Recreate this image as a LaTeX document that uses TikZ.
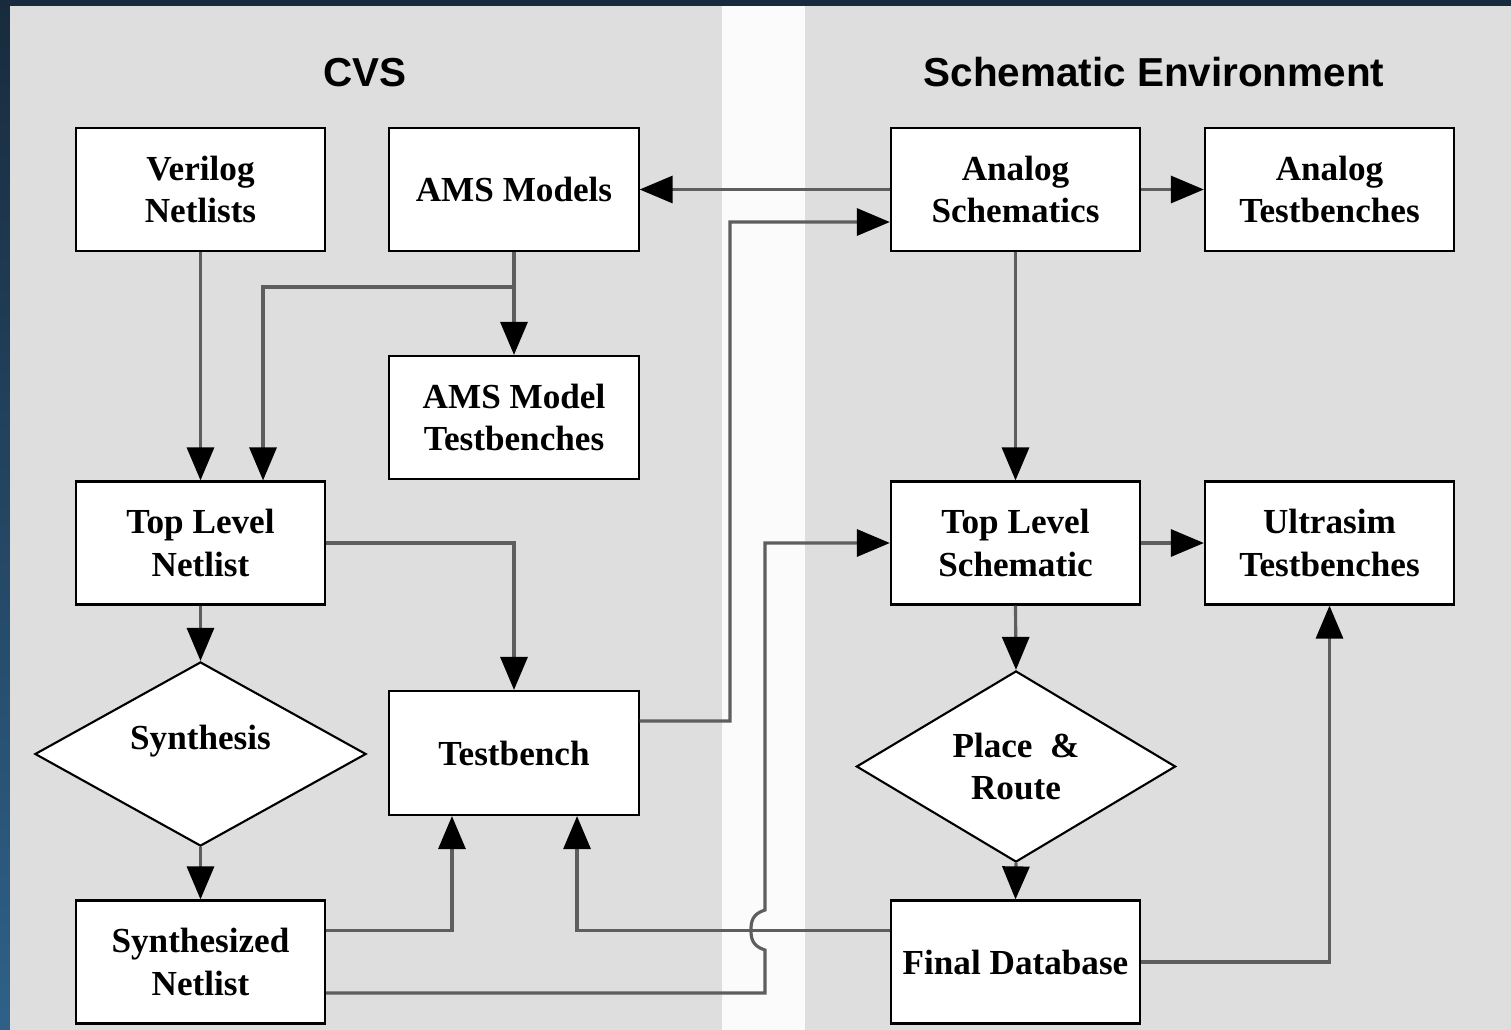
\documentclass[tikz,border=0pt]{standalone}
\usepackage{fontspec}
\setmainfont{Liberation Serif}
\newfontfamily\titlefont{Liberation Sans}
\usetikzlibrary{arrows.meta,shapes.geometric,calc}
\definecolor{navy}{HTML}{182B3E}
\definecolor{stripblue}{HTML}{2F6188}
\definecolor{panel}{HTML}{DEDEDE}
\definecolor{gap}{HTML}{FBFBFB}
\definecolor{conn}{HTML}{5E5E5E}
\tikzset{
  box/.style={draw=black, line width=0.6pt, fill=white, minimum width=2.49cm, minimum height=1.23cm, inner sep=0pt, align=center, font=\fontsize{10}{12}\selectfont\bfseries},
  dia/.style={diamond, shape aspect=1.8, draw=black, line width=0.6pt, fill=white, inner sep=0pt, align=center, font=\fontsize{10}{12}\selectfont\bfseries},
  arr/.style={draw=conn, line width=0.9pt, -{Triangle[length=3.3mm,width=2.7mm,fill=black,color=black]}},
  ttl/.style={font=\titlefont\fontsize{11.5}{13}\selectfont\bfseries}
}
\begin{document}
\begin{tikzpicture}[x=0.01cm,y=-0.01cm]
\useasboundingbox (0,0) rectangle (1511,1030);
% background
\shade[top color=navy, bottom color=stripblue] (0,0) rectangle (1511,1030);
\fill[navy] (0,0) rectangle (1511,6);
\fill[panel] (10,6) rectangle (722,1030);
\fill[gap] (722,6) rectangle (805,1030);
\fill[panel] (805,6) rectangle (1511,1030);
% titles
\node[ttl] (tcvs) at (365,73) {CVS};
\node[ttl] (tsch) at (1154,72) {Schematic Environment};
% nodes
\node[box] (ver) at (200.5,189.5) {Verilog\\Netlists};
\node[box] (ams) at (514,189.5) {AMS Models};
\node[box] (as) at (1015.5,189.5) {Analog\\Schematics};
\node[box] (atb) at (1329.5,189.5) {Analog\\Testbenches};
\node[box] (amstb) at (514,417.5) {AMS Model\\Testbenches};
\node[box] (tln) at (200.5,543) {Top Level\\Netlist};
\node[box] (tls) at (1015.5,543) {Top Level\\Schematic};
\node[box] (ult) at (1329.5,543) {Ultrasim\\Testbenches};
\node[dia, minimum width=3.31cm, minimum height=1.84cm] (syn) at (200.5,754) {\smash{\raisebox{0.5mm}{Synthesis}}};
\node[box, minimum height=1.24cm] (tb) at (514,753) {Testbench};
\node[dia, minimum width=3.19cm, minimum height=1.91cm] (pr) at (1016,766.5) {Place~~\&\\Route};
\node[box] (sn) at (200.5,962) {Synthesized\\Netlist};
\node[box] (fd) at (1015.5,962) {Final Database};
% connectors
\draw[arr] (ver.south) -- (tln.north);
\draw[arr] (ams.south) -- (amstb.north);
\coordinate (amsbr) at (514,287);
\draw[arr] (amsbr) -| ([xshift=6.25mm]tln.north);
\draw[arr] (as.west) -- (ams.east);
\draw[arr] (as.east) -- (atb.west);
\coordinate (tbup) at (730,721);
\draw[arr] ([yshift=3.2mm]tb.east) -- (tbup) |- ([yshift=-3.25mm]as.west);
\draw[arr] (as.south) -- (tls.north);
\draw[arr] (tln.east) -| (tb.north);
\draw[arr] (tln.south) -- (syn.north);
\draw[arr] (syn.south) -- (sn.north);
\draw[arr] ([yshift=3.15mm]sn.east) -| ([xshift=-6.2mm]tb.south);
\draw[arr] ([yshift=3.15mm]fd.west) -| ([xshift=6.3mm]tb.south);
\coordinate (jlow) at (765,993);
\coordinate (jb) at (765,950);
\coordinate (jt) at (765,910);
\draw[arr] ([yshift=-3.1mm]sn.east) -- (jlow) -- (jb)
  .. controls (752,946) and (751,938) .. (751,930)
  .. controls (751,922) and (752,914) .. (jt) |- (tls.west);
\draw[arr] (tls.east) -- (ult.west);
\draw[arr] (tls.south) -- (pr.north);
\draw[arr] (pr.south) -- (fd.north);
\draw[arr] (fd.east) -| (ult.south);
\end{tikzpicture}
\end{document}
